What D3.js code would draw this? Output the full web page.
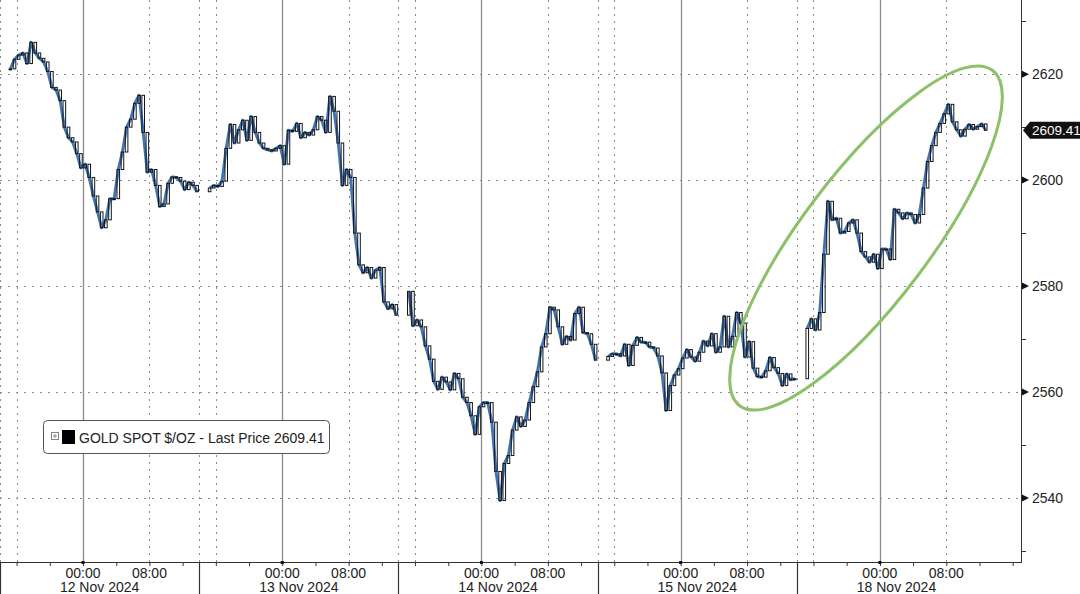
<!DOCTYPE html>
<html>
<head>
<meta charset="utf-8">
<script src="https://cdn.jsdelivr.net/npm/d3@7"></script>
<style>
body { margin: 0; background: #fff; }
svg { display: block; }
text { font-family: "Liberation Sans", Arial, sans-serif; }
</style>
</head>
<body>
<div id="chart"></div>
<script>
// Session labels (each session = 24h, starting 14:00 the day before).
var sessions = ['12 Nov 2024', '13 Nov 2024', '14 Nov 2024', '15 Nov 2024', '18 Nov 2024'];

// 30-minute closes per session.
var close12 = [2621, 2622.8, 2623.6, 2624, 2622, 2626, 2624, 2623, 2622.3, 2620.5,
    2617.5, 2617, 2615, 2610, 2608, 2607.2, 2605, 2602.3, 2603, 2600.5,
    2597, 2594, 2591, 2592.5, 2596.5, 2596.5, 2602, 2605.3, 2610, 2611.5,
    2614.5, 2616, 2609, 2601.5, 2602, 2599, 2595, 2595.5, 2599.4, 2600.6,
    2600.5, 2599.8, 2598.2, 2599.6, 2599, 2597.8];
var close13 = [2598.5, 2599, 2598.8, 2599.8, 2606, 2610.5, 2607, 2609.5, 2611.3, 2607.5,
    2612, 2609, 2607, 2606, 2605.7, 2605.5, 2606, 2606.5, 2603, 2609.4,
    2609.2, 2610.7, 2608, 2609, 2608.5, 2609.5, 2612, 2611.3, 2609, 2615.8,
    2613, 2607, 2599, 2602, 2600.5, 2590, 2584, 2582.5, 2583.5, 2581.5,
    2583, 2583.5, 2577, 2575.7, 2576.5, 2574.5];
var close14 = [2579, 2572.5, 2573.6, 2572.3, 2568.7, 2566.2, 2562, 2560.5, 2562.8, 2561.9,
    2560.4, 2563.5, 2562.5, 2559, 2558, 2555.5, 2552, 2557.2, 2558, 2558,
    2554.3, 2545, 2539.5, 2546.5, 2548, 2552.8, 2555.3, 2553.5, 2554.7, 2558,
    2561, 2563.8, 2568.5, 2571, 2576, 2575.5, 2572.3, 2569, 2570.5, 2569.8,
    2574.8, 2576, 2571.2, 2571, 2569, 2566];
var close15 = [2566.7, 2567.2, 2567.2, 2566.8, 2569, 2565, 2568.8, 2570.3, 2569.4, 2569.4,
    2568.5, 2568.3, 2566.8, 2563.6, 2556.5, 2561.2, 2563.2, 2564.4, 2566.4, 2568,
    2566.6, 2565.8, 2567.5, 2569.6, 2568.7, 2571, 2567.5, 2568.5, 2574.3, 2568.5,
    2570.5, 2575, 2573, 2566.6, 2569.5, 2564.5, 2562.9, 2562.8, 2564, 2566.5,
    2564.6, 2563.5, 2561.2, 2563.4, 2562.3, 2562.5];
var close18 = [2572, 2573.8, 2571.7, 2575, 2586, 2596, 2592.5, 2592.8, 2590, 2590.3,
    2591.9, 2592.5, 2590, 2586.5, 2585.5, 2584.5, 2586, 2583.3, 2587, 2587,
    2585, 2594.5, 2593.8, 2592.7, 2593.8, 2593.5, 2591.9, 2593.5, 2598.5, 2603.5,
    2606.5, 2609, 2610.7, 2612.5, 2614.3, 2611, 2609.5, 2608.3, 2609.6, 2610.5,
    2609.6, 2610.1, 2610.6, 2609.41];

var priceTicks = [2540, 2560, 2580, 2600, 2620];
var minorPriceTicks = [2530, 2550, 2570, 2590, 2610, 2630];
var hourLabels = ['00:00', '08:00'];
var seriesName = 'GOLD SPOT $/OZ - Last Price';
var lastPrice = 2609.41;

(function () {
    var width = 1080, height = 594,
        plotRight = 1021, plotBottom = 562,
        closes = [close12, close13, close14, close15, close18],
        bars = [], prev = null;

    // 1 Scales: x in "session hours" (24 per session), y in price.
    var x = d3.scaleLinear().domain([0, 123]).range([0, plotRight]);
    var y = d3.scaleLinear().domain([2527.9, 2634.0]).range([plotBottom, 0]);

    closes.forEach(function (list, d) {
        list.forEach(function (c, k) {
            bars.push({ t: 24 * d + 1.25 + 0.5 * k, open: prev === null ? c : prev, close: c, session: d });
            prev = c;
        });
    });

    var svg = d3.select('#chart').append('svg')
        .attr('width', width)
        .attr('height', height);

    // 2 Grid
    var grid = svg.append('g').attr('class', 'grid');
    grid.selectAll('line.h').data(priceTicks).enter().append('line')
        .attr('x1', 0).attr('x2', plotRight)
        .attr('y1', function (v) { return Math.round(y(v)) + 0.5; })
        .attr('y2', function (v) { return Math.round(y(v)) + 0.5; })
        .attr('stroke', '#8a8a8a').attr('stroke-width', 1)
        .attr('stroke-dasharray', '2,6');

    var dotted = [], solid = [];
    sessions.forEach(function (s, d) {
        dotted.push(24 * d + 2, 24 * d + 18);
        if (d > 0) { dotted.push(24 * d); }
        solid.push(24 * d + 10);
    });
    dotted.push(0);
    grid.selectAll('line.v').data(dotted).enter().append('line')
        .attr('x1', function (t) { return Math.round(x(t)) + 0.5; })
        .attr('x2', function (t) { return Math.round(x(t)) + 0.5; })
        .attr('y1', 0).attr('y2', plotBottom)
        .attr('stroke', '#8a8a8a').attr('stroke-width', 1)
        .attr('stroke-dasharray', '2,5');
    grid.selectAll('line.s').data(solid).enter().append('line')
        .attr('x1', function (t) { return Math.round(x(t)) + 0.5; })
        .attr('x2', function (t) { return Math.round(x(t)) + 0.5; })
        .attr('y1', 0).attr('y2', plotBottom)
        .attr('stroke', '#8c8c8c').attr('stroke-width', 1.3);

    // 3 Price series: blue close line + black bars
    var line = d3.line()
        .x(function (b) { return x(b.t); })
        .y(function (b) { return y(b.close); });
    var plot = svg.append('g').attr('class', 'series');
    sessions.forEach(function (s, d) {
        plot.append('path')
            .datum(bars.filter(function (b) { return b.session === d; }))
            .attr('d', line)
            .attr('fill', 'none')
            .attr('stroke', '#4275b6')
            .attr('stroke-width', 3)
            .attr('stroke-linejoin', 'round');
    });
    plot.selectAll('rect.bar').data(bars).enter().append('rect')
        .attr('x', function (b) { return x(b.t) - 1.3; })
        .attr('width', 2.6)
        .attr('y', function (b) { return y(Math.max(b.open, b.close)); })
        .attr('height', function (b) { return Math.max(1, Math.abs(y(b.open) - y(b.close))); })
        .attr('fill', 'none')
        .attr('stroke', '#141414')
        .attr('stroke-width', 1);

    // 4 Highlight ellipse
    svg.append('ellipse')
        .attr('cx', 866).attr('cy', 238)
        .attr('rx', 210).attr('ry', 64)
        .attr('transform', 'rotate(-53,866,238)')
        .attr('fill', 'none')
        .attr('stroke', '#8cc06a')
        .attr('stroke-width', 3);

    // 5 Right price axis
    var yAxis = svg.append('g').attr('class', 'y-axis');
    yAxis.append('line')
        .attr('x1', plotRight + 0.5).attr('x2', plotRight + 0.5)
        .attr('y1', 0).attr('y2', plotBottom)
        .attr('stroke', '#333').attr('stroke-width', 1);
    yAxis.selectAll('path.tri').data(priceTicks).enter().append('path')
        .attr('d', function (v) {
            var py = y(v);
            return 'M' + (plotRight + 1) + ',' + (py - 3.5) + 'L' + (plotRight + 8) + ',' + py + 'L' + (plotRight + 1) + ',' + (py + 3.5) + 'Z';
        })
        .attr('fill', '#111');
    yAxis.selectAll('line.minor').data(minorPriceTicks).enter().append('line')
        .attr('x1', plotRight).attr('x2', plotRight + 5)
        .attr('y1', function (v) { return Math.round(y(v)) + 0.5; })
        .attr('y2', function (v) { return Math.round(y(v)) + 0.5; })
        .attr('stroke', '#333');
    yAxis.selectAll('text').data(priceTicks).enter().append('text')
        .attr('x', plotRight + 11)
        .attr('y', function (v) { return y(v) + 5; })
        .attr('font-size', 14)
        .attr('fill', '#222')
        .text(function (v) { return v; });

    // Last price tag
    var ly = y(lastPrice);
    yAxis.append('path')
        .attr('d', 'M' + (plotRight + 2) + ',' + ly + 'L' + (plotRight + 9) + ',' + (ly - 8.5) +
            'L' + width + ',' + (ly - 8.5) + 'L' + width + ',' + (ly + 8.5) + 'L' + (plotRight + 9) + ',' + (ly + 8.5) + 'Z')
        .attr('fill', '#111');
    yAxis.append('text')
        .attr('x', plotRight + 11)
        .attr('y', ly + 5)
        .attr('font-size', 13.5)
        .attr('fill', '#fff')
        .text(d3.format('.2f')(lastPrice));

    // 6 Bottom time axis
    var xAxis = svg.append('g').attr('class', 'x-axis')
        .attr('transform', 'translate(0,' + plotBottom + ')')
        .call(d3.axisBottom(x).tickValues(d3.range(2, 123, 4)).tickSize(4).tickFormat(''));
    xAxis.select('.domain').attr('stroke', '#333').attr('d', 'M0,0.5H' + (plotRight + 1));
    xAxis.selectAll('.tick line').attr('stroke', '#333');

    var sep = svg.append('g').attr('class', 'sessions');
    sep.selectAll('line').data(d3.range(sessions.length)).enter().append('line')
        .attr('x1', function (d) { return Math.round(x(24 * d)) + 0.5; })
        .attr('x2', function (d) { return Math.round(x(24 * d)) + 0.5; })
        .attr('y1', plotBottom).attr('y2', height)
        .attr('stroke', '#333').attr('stroke-width', 1.2);
    sep.selectAll('rect').data(d3.range(sessions.length)).enter().append('rect')
        .attr('x', function (d) { return x(24 * d + 10) - 1.5; })
        .attr('y', plotBottom - 1)
        .attr('width', 3).attr('height', 3)
        .attr('fill', '#111');

    var labels = svg.append('g').attr('class', 'x-labels')
        .attr('font-size', 14).attr('fill', '#222').attr('text-anchor', 'middle');
    sessions.forEach(function (s, d) {
        hourLabels.forEach(function (h, i) {
            labels.append('text')
                .attr('x', x(24 * d + 10 + 8 * i))
                .attr('y', 578)
                .text(h);
        });
        labels.append('text')
            .attr('x', x(24 * d + 12))
            .attr('y', 592)
            .text(s);
    });

    // 7 Legend
    var legend = svg.append('g').attr('class', 'legend').attr('transform', 'translate(43,420)');
    legend.append('rect')
        .attr('x', 0.5).attr('y', 0.5)
        .attr('width', 286).attr('height', 33)
        .attr('rx', 4)
        .attr('fill', '#fff')
        .attr('stroke', '#555');
    legend.append('rect')
        .attr('x', 8.5).attr('y', 12.5).attr('width', 7).attr('height', 7)
        .attr('fill', '#fff').attr('stroke', '#888');
    legend.append('path')
        .attr('d', 'M10,16H14M12,14V18')
        .attr('stroke', '#888');
    legend.append('rect')
        .attr('x', 19).attr('y', 10).attr('width', 13).attr('height', 14)
        .attr('fill', '#000');
    legend.append('text')
        .attr('x', 36).attr('y', 23)
        .attr('font-size', 14)
        .attr('fill', '#222')
        .text(seriesName + ' ' + d3.format('.2f')(lastPrice));
})();
</script>
</body>
</html>
